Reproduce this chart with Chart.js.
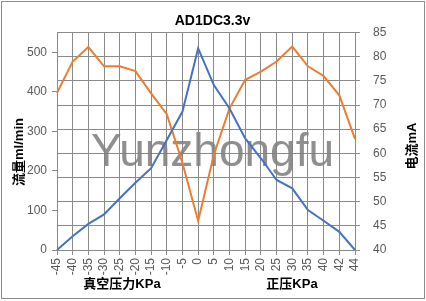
<!DOCTYPE html>
<html>
<head>
<meta charset="utf-8">
<script src="https://cdn.jsdelivr.net/npm/chart.js@4/dist/chart.umd.min.js"></script>
<style>
html,body{margin:0;padding:0;background:#fff;}
#wrap{width:426px;height:301px;position:relative;}
</style>
</head>
<body>
<div id="wrap"><canvas id="c" width="426" height="301"></canvas></div>
<script>
const chartTitle = 'AD1DC3.3v';
const categories = ['-45','-40','-35','-30','-25','-20','-15','-10','-5','0','5','10','15','20','25','30','35','40','42','44'];
const flowValues = [0,35,66,90,131,170,207,278,350,510,417,358,282,232,177,156,101,74,46,0];
const currentValues = [72.5,79,82,78,78,77,72.4,68.1,58,46,59.7,69.3,75.2,76.9,79,82.1,78,76,72,63];
const flowTicks = [0,100,200,300,400,500];
const leftTitle = '流量ml/min';
const rightTitle = '电流mA';
const vacuumLabel = '真空压力KPa';
const pressureLabel = '正压KPa';
const watermark = 'Yunzhongfu';

const GRID = '#8a8a8a';
const TXT = '#595959';

const decor = {
  id: 'decor',
  beforeDatasetsDraw(chart) {
    const ctx = chart.ctx;
    ctx.save();
    ctx.font = '46px "Liberation Sans", Arial, sans-serif';
    ctx.fillStyle = 'rgba(128,128,128,0.88)';
    ctx.textAlign = 'center';
    ctx.textBaseline = 'alphabetic';
    ctx.fillText(watermark, 212.5, 166);
    ctx.restore();
  },
  afterDraw(chart) {
    const ctx = chart.ctx;
    ctx.save();
    ctx.strokeStyle = '#8c8c8c';
    ctx.lineWidth = 1;
    ctx.strokeRect(1.5, 1.5, 423, 297);
    ctx.fillStyle = '#000';
    ctx.textAlign = 'center';
    ctx.textBaseline = 'middle';
    ctx.font = 'bold 14px "Liberation Sans", Arial, sans-serif';
    ctx.fillText(chartTitle, 212.5, 21);
    ctx.font = 'bold 13px "Liberation Sans", "Noto Sans CJK SC", sans-serif';
    ctx.fillText(vacuumLabel, 122, 284);
    ctx.fillText(pressureLabel, 292, 284);
    ctx.save();
    ctx.translate(19, 152);
    ctx.rotate(-Math.PI/2);
    ctx.fillText(leftTitle, 0, 0);
    ctx.restore();
    ctx.save();
    ctx.translate(412, 146);
    ctx.rotate(-Math.PI/2);
    ctx.fillText(rightTitle, 0, 0);
    ctx.restore();
    ctx.restore();
  }
};

new Chart(document.getElementById('c'), {
  type: 'line',
  data: {
    labels: categories,
    datasets: [
      {label: '流量', data: flowValues, yAxisID: 'y', borderColor: '#4472C4', backgroundColor: '#4472C4', borderWidth: 2, pointRadius: 0, tension: 0},
      {label: '电流', data: currentValues, yAxisID: 'y1', borderColor: '#ED7D31', backgroundColor: '#ED7D31', borderWidth: 2, pointRadius: 0, tension: 0}
    ]
  },
  options: {
    responsive: false,
    animation: false,
    events: [],
    layout: {padding: {top: 32.5, left: 0, right: 0, bottom: 0}},
    plugins: {legend: {display: false}, title: {display: false}, tooltip: {enabled: false}},
    scales: {
      x: {
        offset: false,
        afterFit(s) { s.height = 51; },
        grid: {display: true, color: GRID, lineWidth: 1, drawOnChartArea: true, drawTicks: true, tickLength: 5},
        border: {display: true, color: GRID},
        ticks: {color: TXT, font: {size: 12, family: '"Liberation Sans", Arial, sans-serif'}, minRotation: 90, maxRotation: 90, autoSkip: false, padding: 3}
      },
      y: {
        position: 'left',
        min: 0, max: 550,
        afterFit(s) { s.width = 57; },
        afterBuildTicks(s) { s.ticks = flowTicks.map(v => ({value: v})); },
        grid: {display: true, drawOnChartArea: false, color: GRID, tickLength: 5},
        border: {display: true, color: GRID},
        ticks: {color: TXT, font: {size: 12, family: '"Liberation Sans", Arial, sans-serif'}, padding: 5}
      },
      y1: {
        position: 'right',
        min: 40, max: 85,
        afterFit(s) { s.width = 71; },
        grid: {display: true, drawOnChartArea: true, color: GRID, tickLength: 5},
        border: {display: true, color: GRID},
        ticks: {stepSize: 5, color: TXT, font: {size: 12, family: '"Liberation Sans", Arial, sans-serif'}, padding: 13}
      }
    }
  },
  plugins: [decor]
});
</script>
</body>
</html>
